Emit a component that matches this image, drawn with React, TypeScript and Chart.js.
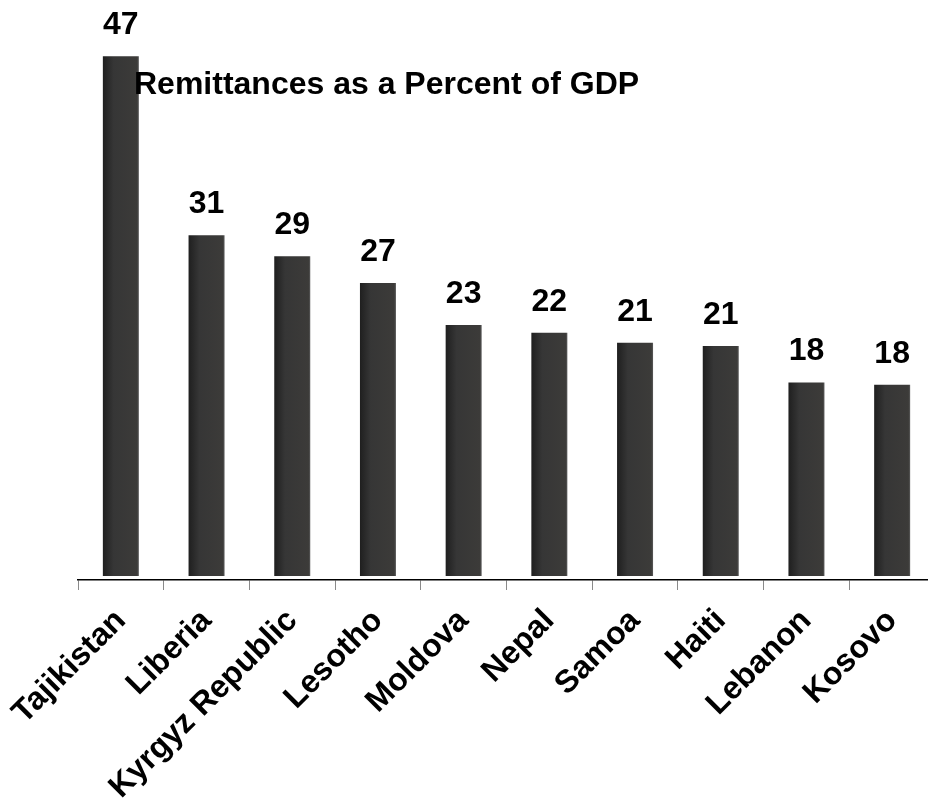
import React, { useEffect, useRef } from "react";
import { Chart, registerables } from "chart.js";

Chart.register(...registerables);

const categories = [
  "Tajikistan",
  "Liberia",
  "Kyrgyz Republic",
  "Lesotho",
  "Moldova",
  "Nepal",
  "Samoa",
  "Haiti",
  "Lebanon",
  "Kosovo",
];
const values = [47, 30.8, 28.9, 26.5, 22.7, 22.0, 21.1, 20.8, 17.5, 17.3];
const valueLabels = ["47", "31", "29", "27", "23", "22", "21", "21", "18", "18"];
const chartTitle = "Remittances as a Percent of GDP";

const FONT = '"Liberation Sans", Arial, Helvetica, sans-serif';

const overlayPlugin = {
  id: "overlay",
  afterDatasetsDraw(chart: any) {
    const ctx = chart.ctx;
    const meta = chart.getDatasetMeta(0);
    ctx.save();
    ctx.fillStyle = "#000";
    ctx.font = `bold 32px ${FONT}`;
    ctx.textAlign = "center";
    ctx.textBaseline = "alphabetic";
    meta.data.forEach((bar: any, i: number) => {
      ctx.fillText(valueLabels[i], bar.x, bar.y - 22);
    });
    ctx.textAlign = "left";
    ctx.fillText(chartTitle, chart.chartArea.left + 56, 94);
    ctx.restore();
  },
};

export default function App() {
  const ref = useRef<HTMLCanvasElement | null>(null);
  useEffect(() => {
    if (!ref.current) return;
    const chart = new Chart(ref.current, {
      type: "bar",
      data: {
        labels: categories,
        datasets: [
          {
            data: values,
            backgroundColor: (c: any) => {
              const ch = c.chart;
              const xs = ch.scales && ch.scales.x;
              if (!xs || c.dataIndex === undefined) return "#3a3a3a";
              const x = xs.getPixelForValue(c.dataIndex);
              if (!Number.isFinite(x)) return "#3a3a3a";
              const half = 18;
              const g = ch.ctx.createLinearGradient(x - half, 0, x + half, 0);
              g.addColorStop(0, "#1f1f1f");
              g.addColorStop(0.3, "#363636");
              g.addColorStop(0.95, "#3c3b39");
              g.addColorStop(1, "#5a5a5a");
              return g;
            },
            borderWidth: 0,
            barPercentage: 0.42,
            categoryPercentage: 1,
          },
        ],
      },
      options: {
        animation: false,
        responsive: false,
        maintainAspectRatio: false,
        layout: { padding: { left: 78, right: 10, top: 23, bottom: 0 } },
        plugins: {
          legend: { display: false },
          tooltip: { enabled: false },
          title: { display: false },
        },
        scales: {
          y: {
            display: false,
            min: -0.36,
            max: 50,
          },
          x: {
            offset: true,
            afterFit: (scale: any) => {
              scale.height = 223;
            },
            grid: {
              offset: true,
              drawOnChartArea: false,
              drawTicks: true,
              tickLength: 10,
              color: "#8a8a8a",
              lineWidth: 1,
            },
            border: { display: true, color: "#000", width: 1.5 },
            ticks: {
              autoSkip: false,
              maxRotation: 45,
              minRotation: 45,
              color: "#000",
              padding: 12,
              font: { family: FONT, size: 32, weight: "bold" },
            },
          },
        },
      },
      plugins: [overlayPlugin],
    });
    chart.update();
    return () => chart.destroy();
  }, []);
  return (
    <div
      style={{
        position: "fixed",
        left: 0,
        top: 0,
        width: 928,
        height: 803,
        overflow: "hidden",
        background: "#fff",
      }}
    >
      <canvas ref={ref} width={945} height={803} style={{ width: 945, height: 803, display: "block" }} />
    </div>
  );
}
